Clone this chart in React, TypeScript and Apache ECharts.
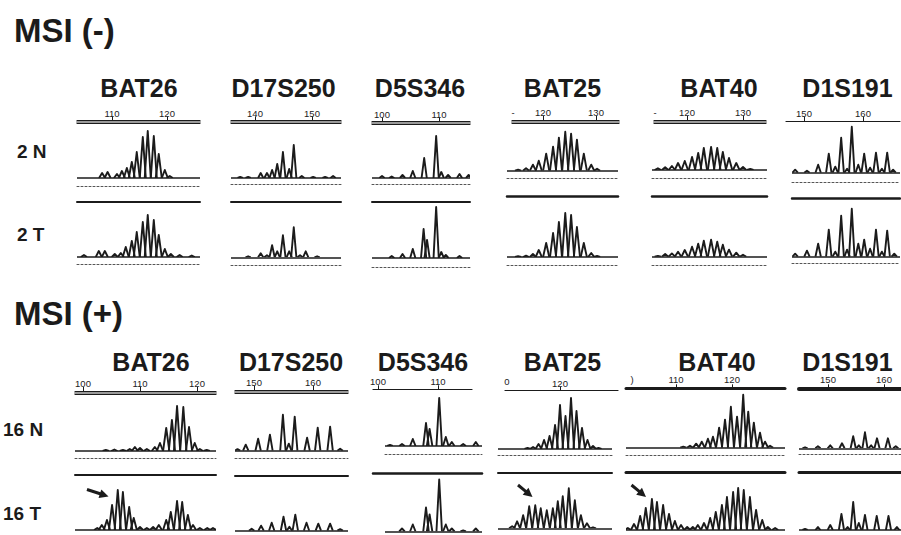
import React, { useEffect, useRef } from 'react';
import * as echarts from 'echarts';

const FONT = '"Liberation Sans", Arial, Helvetica, sans-serif';
const INK = '#1b1b1b';

// ---- text content ----
const SECTIONS = ['MSI (-)', 'MSI (+)'];
const MARKERS = ['BAT26', 'D17S250', 'D5S346', 'BAT25', 'BAT40', 'D1S191'];
const ROWS_NEG = ['2 N', '2 T'];
const ROWS_POS = ['16 N', '16 T'];

// ---- axis tick labels (bp) ----
const TICKS_NEG = [[110, 120], [140, 150], [100, 110], [120, 130], [120, 130], [150, 160]];
const TICKS_POS = [[100, 110, 120], [150, 160], [100, 110], [120], [110, 120], [150, 160]];

// ---- peaks: [size (bp), relative intensity] ----
// MSI (-) case 2
const BAT26_2N = [[108.2, 5], [109.2, 6], [110.9, 4], [111.8, 7], [112.7, 10], [113.6, 16], [114.5, 26], [115.6, 41], [116.5, 47], [117.6, 42], [118.5, 24], [119.6, 8], [120.5, 2]];
const BAT26_2T = [[104.9, 2], [107.6, 6], [108.7, 6], [110.5, 3], [111.6, 4], [112.5, 10], [113.6, 16], [114.5, 25], [115.6, 35], [116.5, 42], [117.6, 37], [118.5, 22], [119.6, 8], [120.7, 3], [122.3, 2], [124.5, 1.5]];
const D17S250_2N = [[137.4, 1], [138.8, 1], [141, 5], [142.1, 5], [143, 8], [143.9, 14], [144.9, 26], [146, 9], [146.8, 33], [148.2, 2], [150.2, 1], [152.3, 1], [153.7, 2]];
const D17S250_2T = [[138.8, 1], [141, 4], [142.1, 2], [143, 12], [143.9, 6], [144.9, 22], [146, 6], [146.8, 30], [147.9, 2], [148.9, 6], [150.9, 1]];
const D5S346_2N = [[100, 2], [101.7, 1.5], [103.6, 3], [105.4, 7], [107.4, 20], [109.5, 42], [110.4, 6], [111.6, 3], [113.6, 4], [115.2, 3]];
const D5S346_2T = [[101.7, 2], [103.6, 4], [105.4, 9], [107.3, 29], [107.9, 18], [109.5, 51], [110.4, 6], [111.2, 3], [113.6, 2]];
const BAT25_2N = [[115.3, 1], [116.8, 2.5], [118.1, 6], [119.2, 10], [120.6, 17], [121.9, 24], [123.0, 33], [124.2, 39], [125.3, 37], [126.4, 31], [127.7, 17], [129.1, 6], [130.2, 2]];
const BAT25_2T = [[115.3, 0.7], [116.8, 1.3], [118.1, 3], [119.2, 7], [120.6, 14], [121.9, 24], [123.0, 35], [124.2, 44], [125.3, 42], [126.4, 30], [127.7, 14], [129.1, 4], [130.2, 1]];
const BAT40_2N = [[114.8, 1.7], [116.1, 2.7], [117.3, 4], [118.4, 7], [119.6, 9], [120.9, 13], [122, 17], [123, 22], [124.3, 23], [125.4, 22], [126.4, 18], [127.5, 12], [128.8, 7], [130, 3], [131.3, 1]];
const BAT40_2T = [[114.8, 0.7], [116.1, 2.7], [117.3, 3.3], [118.4, 5], [119.6, 6.7], [120.9, 10], [122, 13], [123, 16], [124.3, 17], [125.4, 15], [126.4, 12], [127.5, 7], [128.8, 4], [130, 2]];
const D1S191_2N = [[148.5, 3], [150.5, 2], [152.4, 8], [154.2, 19], [155.3, 6], [156.3, 35], [157.3, 4], [158.1, 46], [159.2, 8], [160.2, 19], [161.2, 5], [162.2, 20], [163.2, 4], [164.1, 20], [165.1, 3]];
const D1S191_2T = [[148.5, 3], [150.5, 6], [152.4, 13], [154.2, 27], [155.3, 5], [156.3, 41], [157.3, 7], [158.1, 48], [159.2, 13], [160.2, 17], [161.2, 8], [162.2, 27], [163.2, 5], [164.1, 26], [165.3, 3]];
// MSI (+) case 16
const BAT26_16N = [[104, 1], [105.5, 1.5], [107, 1], [108.2, 2], [109.1, 4], [110, 3], [111.2, 2], [112.6, 4], [113.5, 8], [114.6, 23], [115.6, 31], [116.5, 45], [117.6, 44], [118.6, 24], [119.6, 8], [120.5, 2], [121.7, 1]];
const BAT26_16T = [[102.5, 2], [103.3, 5], [104.2, 10], [105.1, 25], [106.1, 40], [107, 38], [108.1, 23], [108.9, 12], [110, 3], [111.2, 2], [112.3, 3], [113.3, 5], [114.6, 10], [115.4, 18], [116.5, 29], [117.4, 28], [118.4, 15], [119.3, 5], [120.5, 2], [121.8, 2], [122.8, 2]];
const D17S250_16N = [[147.2, 1.5], [148.6, 6], [150.7, 12], [152.7, 16], [154.9, 36], [155.9, 7], [156.9, 34], [159, 13], [160.8, 23], [162.9, 24], [164.6, 2]];
const D17S250_16T = [[149.6, 2], [151.2, 5], [153, 8], [155, 14], [156, 4], [157, 16], [158.9, 8], [160.9, 7], [162.9, 7], [164.6, 1.5]];
const D5S346_16N = [[102, 1], [104, 2], [105.8, 7], [108, 23], [108.6, 17], [110.2, 48], [111.3, 9], [112.3, 4], [114.2, 2], [116.3, 4]];
const D5S346_16T = [[104, 3], [105.8, 7], [108, 24], [108.6, 17], [110.2, 52], [111.3, 7], [112.3, 3], [114.2, 1], [116.3, 3]];
const BAT25_16N = [[114.1, 1], [115.1, 2], [116.1, 5], [117.1, 9], [118.1, 13], [119.1, 24], [120, 44], [121, 33], [122, 51], [123, 38], [124, 21], [125, 9], [126, 3], [127, 1]];
const BAT25_16T = [[111.3, 2], [112.2, 7], [113.3, 13], [114.4, 22], [115.5, 23], [116.5, 20], [117.6, 18], [118.7, 20], [119.6, 27], [120.5, 32], [121.6, 40], [122.7, 28], [123.8, 13], [124.9, 5], [126, 1]];
const BAT40_16N = [[111.3, 1], [112.5, 2], [113.6, 4], [114.6, 6], [115.7, 9], [116.6, 11], [117.7, 20], [118.75, 28], [119.8, 41], [120.9, 31], [122, 53], [122.9, 36], [123.9, 25], [125, 15], [125.9, 6], [126.8, 2]];
const BAT40_16T = [[101.4, 2], [102.5, 6], [103.6, 14], [104.6, 22], [105.7, 31], [106.6, 28], [107.7, 25], [108.75, 16], [109.8, 9], [110.9, 5], [112, 3], [113, 3], [113.9, 5], [115, 7], [116.1, 12], [117.1, 18], [118.2, 25], [119.1, 33], [120.2, 38], [121.1, 42], [122.1, 40], [123.2, 33], [124.3, 20], [125.4, 10], [126.4, 3], [127.7, 2]];
const D1S191_16N = [[145.9, 1], [148.2, 2], [150.4, 3], [152.5, 5], [154.5, 12], [155.5, 3], [156.6, 16], [157.7, 3], [158.75, 10], [160.7, 10], [162.1, 2]];
const D1S191_16T = [[145.9, 1], [148.2, 3], [150.4, 5], [152.4, 16], [153.5, 3], [154.5, 28], [155.5, 7], [156.6, 15], [158.7, 14], [160.8, 14], [162.3, 3]];

const PEAKS_NEG = [
  [BAT26_2N, D17S250_2N, D5S346_2N, BAT25_2N, BAT40_2N, D1S191_2N],
  [BAT26_2T, D17S250_2T, D5S346_2T, BAT25_2T, BAT40_2T, D1S191_2T],
];
const PEAKS_POS = [
  [BAT26_16N, D17S250_16N, D5S346_16N, BAT25_16N, BAT40_16N, D1S191_16N],
  [BAT26_16T, D17S250_16T, D5S346_16T, BAT25_16T, BAT40_16T, D1S191_16T],
];

// ---- layout (pixels) ----
type Panel = {
  ax: number[]; tr: number[]; sp: number[]; cal: number[]; axY: number; axStyle: string; axW?: number;
  nBase: number; nDot: number | null; sep: number; sepW: number; tBase: number; tDot: number | null; w: number;
};
const LAYOUT_NEG: Panel[] = [
  { ax: [77, 200], tr: [77, 200], sp: [77, 200], cal: [110, 112, 120, 167], axY: 123.5, axStyle: 'double', nBase: 178, nDot: 186, sep: 202, sepW: 2, tBase: 257, tDot: 264, w: 0.55 },
  { ax: [231, 341], tr: [231, 341], sp: [231, 341], cal: [140, 255, 150, 312], axY: 123.5, axStyle: 'double', nBase: 178, nDot: 184.5, sep: 202, sepW: 2, tBase: 257.3, tDot: 265, w: 0.46 },
  { ax: [372, 470], tr: [372, 470], sp: [372, 470], cal: [100, 382, 110, 439], axY: 124.5, axStyle: 'double', nBase: 178, nDot: 184, sep: 202, sepW: 2, tBase: 258, tDot: 267, w: 0.46 },
  { ax: [512, 619], tr: [507, 618], sp: [507, 618], cal: [120, 543, 130, 596], axY: 123, axStyle: 'double', nBase: 170.7, nDot: 178, sep: 196, sepW: 2.5, tBase: 257, tDot: 265, w: 0.58 },
  { ax: [654, 766], tr: [652, 767], sp: [652, 767], cal: [120, 687, 130, 743], axY: 123, axStyle: 'double', nBase: 170, nDot: 178, sep: 196, sepW: 2.5, tBase: 256.7, tDot: 265, w: 0.58 },
  { ax: [786, 900], tr: [792, 900], sp: [792, 900], cal: [150, 804, 160, 863], axY: 121, axStyle: 'single', nBase: 172.7, nDot: 182, sep: 198, sepW: 2.5, tBase: 256.7, tDot: 263, w: 0.46 },
];
const LAYOUT_POS: Panel[] = [
  { ax: [75, 216], tr: [75, 216], sp: [75, 216], cal: [100, 83, 120, 197], axY: 394, axStyle: 'double', nBase: 451, nDot: 458, sep: 474.5, sepW: 2, tBase: 530, tDot: null, w: 0.55 },
  { ax: [235, 348], tr: [235, 348], sp: [235, 348], cal: [150, 254, 160, 313], axY: 393, axStyle: 'double', nBase: 450.7, nDot: 458, sep: 475.5, sepW: 2, tBase: 530.7, tDot: null, w: 0.46 },
  { ax: [373, 472], tr: [385, 482], sp: [373, 482], cal: [100, 378, 110, 438], axY: 389.3, axStyle: 'single', nBase: 446, nDot: 454, sep: 473, sepW: 2.5, tBase: 531.5, tDot: null, w: 0.46 },
  { ax: [505, 618], tr: [498, 612], sp: [498, 612], cal: [110, 505, 120, 560], axY: 390.7, axStyle: 'single', nBase: 449, nDot: 455, sep: 472.7, sepW: 2, tBase: 528.3, tDot: null, w: 0.55 },
  { ax: [626, 785], tr: [626, 785], sp: [626, 785], cal: [110, 676, 120, 732], axY: 388.3, axStyle: 'thick', axW: 3, nBase: 447.7, nDot: 455, sep: 472.7, sepW: 3, tBase: 530, tDot: null, w: 0.55 },
  { ax: [799, 901], tr: [799, 901], sp: [799, 901], cal: [150, 828, 160, 884], axY: 388.3, axStyle: 'thick', axW: 4, nBase: 448.3, nDot: 454, sep: 472.7, sepW: 3, tBase: 530, tDot: null, w: 0.46 },
];

const SECTION_LAYOUT = [
  { titleY: 30, markerY: 88, markerX: [139, 283.5, 420, 562.5, 719, 847.5], rowX: 17, rowY: [151.5, 234.5],
    frags: [{ t: '-', x: 513, y: 112 }, { t: '-', x: 655, y: 112 }] },
  { titleY: 313, markerY: 361.5, markerX: [151, 291, 423, 562.5, 717, 847.5], rowX: 3, rowY: [429.5, 513.5],
    frags: [{ t: '0', x: 507, y: 381 }, { t: ')', x: 632, y: 379 }] },
];
const ARROWS = [
  { from: [87, 489.5], to: [108.5, 496.5] },
  { from: [518, 485], to: [532.5, 497] },
  { from: [631.5, 485], to: [646, 497] },
];

const TRACE_H = 60;

function bpAt(cal: number[], x: number) {
  const ppb = (cal[3] - cal[1]) / (cal[2] - cal[0]);
  return cal[0] + (x - cal[1]) / ppb;
}

function buildOption() {
  const grid: any[] = [];
  const xAxis: any[] = [];
  const yAxis: any[] = [];
  const series: any[] = [];
  const graphic: any[] = [];

  const addGrid = (left: number, right: number, top: number, height: number, ymax: number) => {
    const gi = grid.length;
    grid.push({ left, top, width: right - left, height, containLabel: false, outerBoundsMode: 'none', show: false });
    yAxis.push({ gridIndex: gi, type: 'value', min: 0, max: ymax, show: false });
    return gi;
  };
  const addX = (gi: number, cal: number[], x0: number, x1: number, extra: any) => {
    const idx = xAxis.length;
    xAxis.push({
      gridIndex: gi, type: 'value', min: bpAt(cal, x0), max: bpAt(cal, x1),
      splitLine: { show: false }, axisTick: { show: false }, axisLabel: { show: false },
      ...extra,
      axisLine: { onZero: false, ...(extra.axisLine || { show: false }) },
    });
    return idx;
  };
  const labelCfg = (ticks: number[], margin: number) => ({
    show: true, customValues: ticks, fontSize: 9.5, lineHeight: 9, fontFamily: FONT, color: '#222', margin,
  });
  const tickCfg = (ticks: number[]) => ({ show: true, customValues: ticks, length: 4, lineStyle: { color: INK, width: 1 } });

  const renderPeak = (w: number) => (_p: any, api: any) => {
    const x = api.value(0);
    const h = api.value(1);
    const a = api.coord([x - w, 0]);
    const b = api.coord([x, h]);
    const c = api.coord([x + w, 0]);
    return {
      type: 'polyline',
      shape: { points: [a, b, c] },
      style: { stroke: INK, lineWidth: 1.9, fill: 'none', lineJoin: 'round' },
    };
  };

  const sections = [
    { layout: LAYOUT_NEG, ticks: TICKS_NEG, peaks: PEAKS_NEG, rows: ROWS_NEG },
    { layout: LAYOUT_POS, ticks: TICKS_POS, peaks: PEAKS_POS, rows: ROWS_POS },
  ];

  sections.forEach((sec, si) => {
    const sl = SECTION_LAYOUT[si];
    sec.layout.forEach((p, pi) => {
      const ticks = sec.ticks[pi];
      // scale axis
      const ag = addGrid(p.ax[0], p.ax[1], p.axY, 1, 1);
      if (p.axStyle === 'double') {
        addX(ag, p.cal, p.ax[0], p.ax[1], { position: 'top', offset: 1.5, axisLine: { show: true, lineStyle: { color: '#9a9a9a', width: 2 } } });
        addX(ag, p.cal, p.ax[0], p.ax[1], { position: 'top', offset: 0, axisLine: { show: true, lineStyle: { color: INK, width: 1.1 } } });
        addX(ag, p.cal, p.ax[0], p.ax[1], {
          position: 'top', offset: 3, axisLine: { show: true, lineStyle: { color: INK, width: 1.1 } },
          axisTick: tickCfg(ticks), axisLabel: labelCfg(ticks, 3),
        });
      } else {
        addX(ag, p.cal, p.ax[0], p.ax[1], {
          position: 'top', offset: 0, axisLine: { show: true, lineStyle: { color: INK, width: p.axStyle === 'thick' ? (p.axW || 3) : 1.2 } },
          axisTick: tickCfg(ticks), axisLabel: labelCfg(ticks, p.axStyle === 'thick' ? 4 : 3),
        });
      }
      // separator between N and T
      const sg = addGrid(p.sp[0], p.sp[1], p.sep, 1, 1);
      addX(sg, p.cal, p.sp[0], p.sp[1], { position: 'top', offset: 0, axisLine: { show: true, lineStyle: { color: INK, width: p.sepW } } });

      // traces
      const rowsLayout = [
        { base: p.nBase, dot: p.nDot },
        { base: p.tBase, dot: p.tDot },
      ];
      rowsLayout.forEach((r, ri) => {
        const tg = addGrid(p.tr[0], p.tr[1], r.base - TRACE_H, TRACE_H, TRACE_H);
        const xi = addX(tg, p.cal, p.tr[0], p.tr[1], {
          position: 'bottom', offset: r.dot != null ? r.dot - r.base : 0,
          axisLine: { show: r.dot != null, lineStyle: { color: '#555', width: 1, type: [2, 2] } },
        });
        series.push({
          type: 'custom',
          name: `${SECTIONS[si]} ${MARKERS[pi]} ${sec.rows[ri]}`,
          coordinateSystem: 'cartesian2d',
          xAxisIndex: xi,
          yAxisIndex: tg,
          data: sec.peaks[ri][pi],
          renderItem: renderPeak(p.w),
          clip: true,
          silent: true,
          markLine: {
            silent: true,
            symbol: ['none', 'none'],
            label: { show: false },
            lineStyle: { color: INK, width: 1.7, type: 'solid' },
            data: [{ yAxis: 0 }],
          },
        });
      });
    });

    // texts
    graphic.push({
      type: 'text', x: 14, y: sl.titleY, silent: true,
      style: { text: SECTIONS[si], fontSize: 33, lineHeight: 34, fontWeight: 'bold', fontFamily: FONT, fill: INK, align: 'left', verticalAlign: 'middle' },
    });
    MARKERS.forEach((m, mi) => {
      graphic.push({
        type: 'text', x: sl.markerX[mi], y: sl.markerY, silent: true,
        style: { text: m, fontSize: 25, lineHeight: 20, fontWeight: 'bold', fontFamily: FONT, fill: INK, align: 'center', verticalAlign: 'middle' },
      });
    });
    sec.rows.forEach((r, ri) => {
      graphic.push({
        type: 'text', x: sl.rowX, y: sl.rowY[ri], silent: true,
        style: { text: r, fontSize: 19, lineHeight: 18, fontWeight: 'bold', fontFamily: FONT, fill: INK, align: 'left', verticalAlign: 'middle' },
      });
    });
    sl.frags.forEach((f) => {
      graphic.push({
        type: 'text', x: f.x, y: f.y, silent: true,
        style: { text: f.t, fontSize: 9.5, lineHeight: 9, fontFamily: FONT, fill: '#222', align: 'center', verticalAlign: 'middle' },
      });
    });
  });

  ARROWS.forEach((a) => {
    const [sx, sy] = a.from;
    const [tx, ty] = a.to;
    const len = Math.hypot(tx - sx, ty - sy);
    const dx = (tx - sx) / len;
    const dy = (ty - sy) / len;
    const hl = 9;
    const hw = 4.5;
    const bx = tx - dx * hl;
    const by = ty - dy * hl;
    graphic.push({ type: 'line', silent: true, shape: { x1: sx, y1: sy, x2: bx + dx, y2: by + dy }, style: { stroke: INK, lineWidth: 3 } });
    graphic.push({
      type: 'polygon', silent: true,
      shape: { points: [[tx, ty], [bx - dy * hw, by + dx * hw], [bx + dy * hw, by - dx * hw]] },
      style: { fill: INK },
    });
  });

  return { animation: false, backgroundColor: '#ffffff', grid, xAxis, yAxis, series, graphic };
}

export default function App() {
  const ref = useRef<HTMLDivElement>(null);
  useEffect(() => {
    document.body.style.margin = '0';
    if (!ref.current) return;
    const chart = echarts.init(ref.current, undefined, { renderer: 'svg' });
    chart.setOption(buildOption() as any);
    return () => chart.dispose();
  }, []);
  return <div ref={ref} style={{ width: 901, height: 535 }} />;
}
